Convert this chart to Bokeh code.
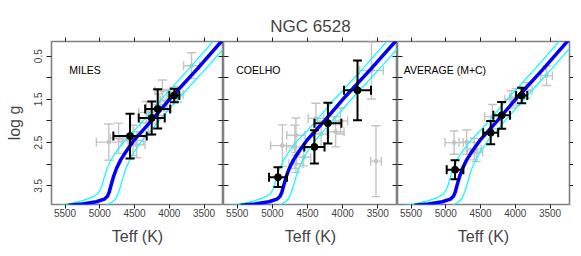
from bokeh.plotting import figure
from bokeh.models import (Range1d, FixedTicker, LinearAxis, Whisker, TeeHead,
                          ColumnDataSource)
from bokeh.layouts import row
from bokeh.embed import file_html
from bokeh.resources import INLINE
from bokeh.core.properties import value

FONT = "Liberation Sans"

# ---------------- data ----------------
title_text = "NGC 6528"
panel_names = ["MILES", "COELHO", "AVERAGE (M+C)"]
x_ticks = [3500, 4000, 4500, 5000, 5500]
y_ticks = [0.5, 1.0, 1.5, 2.0, 2.5, 3.0, 3.5]

# isochrone (blue) and its two neighbours (cyan)
iso_teff = [3230, 3600, 3970, 4250, 4400, 4510, 4620, 4700, 4760, 4805, 4840,
            4865, 4890, 4935, 5050, 5250, 5450]
iso_logg = [0.12, 0.80, 1.45, 1.98, 2.25, 2.45, 2.70, 2.90, 3.10, 3.30, 3.50,
            3.65, 3.74, 3.81, 3.87, 3.92, 3.95]
hot_teff = [3350, 3720, 4090, 4370, 4520, 4640, 4760, 4840, 4895, 4935, 4965,
            4995, 5040, 5130, 5260, 5420, 5600]
hot_logg = [0.12, 0.80, 1.45, 1.98, 2.25, 2.45, 2.70, 2.90, 3.10, 3.30, 3.47,
            3.60, 3.70, 3.78, 3.85, 3.91, 3.95]
cool_teff = [3110, 3480, 3850, 4140, 4280, 4390, 4500, 4570, 4625, 4665, 4700,
             4730, 4770, 4815, 4870, 4950]
cool_logg = [0.12, 0.80, 1.45, 1.98, 2.25, 2.45, 2.70, 2.90, 3.10, 3.30, 3.50,
             3.65, 3.80, 3.87, 3.93, 3.98]

# MILES
miles_teff = [3928, 4167, 4253, 4565]
miles_logg = [1.41, 1.72, 1.93, 2.35]
miles_teff_err = [72, 180, 187, 240]
miles_logg_err = [0.155, 0.455, 0.38, 0.52]
miles_star_teff = [3680, 3880, 4030, 4100, 4150, 4300, 4330, 4520, 4470, 4730, 4870]
miles_star_logg = [0.72, 1.38, 1.52, 1.30, 1.62, 2.05, 1.80, 2.45, 2.55, 2.40, 2.49]
miles_star_teff_err = [115, 80, 100, 110, 100, 120, 110, 150, 120, 120, 180]
miles_star_logg_err = [0.30, 0.18, 0.25, 0.25, 0.25, 0.28, 0.25, 0.35, 0.30, 0.35, 0.42]

# COELHO
coelho_teff = [3789, 4210, 4402, 4920]
coelho_logg = [1.29, 2.05, 2.60, 3.30]
coelho_teff_err = [192, 192, 144, 127]
coelho_logg_err = [0.69, 0.47, 0.385, 0.23]
coelho_star_teff = [3590, 3526, 4030, 4100, 4306, 4380, 4555, 4665, 4665, 4680, 4857]
coelho_star_logg = [0.83, 2.93, 2.00, 2.25, 2.30, 1.94, 2.84, 2.33, 2.99, 2.60, 2.57]
coelho_star_teff_err = [168, 77, 100, 120, 110, 110, 100, 130, 100, 120, 168]
coelho_star_logg_err = [0.66, 0.82, 0.30, 0.35, 0.30, 0.35, 0.20, 0.40, 0.20, 0.50, 0.48]

# AVERAGE (M+C)
avg_teff = [3908, 4196, 4354, 4867]
avg_logg = [1.41, 1.87, 2.27, 3.13]
avg_teff_err = [81, 120, 108, 120]
avg_logg_err = [0.18, 0.31, 0.27, 0.22]
avg_star_teff = [3550, 3840, 3990, 4060, 4330, 4560, 4590, 4700, 4880]
avg_star_logg = [0.95, 1.29, 1.45, 1.50, 1.90, 2.72, 2.65, 2.49, 2.50]
avg_star_teff_err = [84, 80, 90, 90, 110, 90, 100, 110, 130]
avg_star_logg_err = [0.23, 0.18, 0.20, 0.20, 0.28, 0.22, 0.25, 0.28, 0.27]

panels = [
    (miles_teff, miles_logg, miles_teff_err, miles_logg_err,
     miles_star_teff, miles_star_logg, miles_star_teff_err, miles_star_logg_err),
    (coelho_teff, coelho_logg, coelho_teff_err, coelho_logg_err,
     coelho_star_teff, coelho_star_logg, coelho_star_teff_err, coelho_star_logg_err),
    (avg_teff, avg_logg, avg_teff_err, avg_logg_err,
     avg_star_teff, avg_star_logg, avg_star_teff_err, avg_star_logg_err),
]

# ---------------- styling ----------------
FRAME_W = [172, 174, 172]
FRAME_H = 163
LABEL_X = [5440, 5515, 5605]
LABEL_Y = 0.81
GREY = "#c4c4c4"
BORDER = "#808080"


def err_source(t, g, te, ge):
    return ColumnDataSource(dict(
        t=t, g=g,
        tl=[a - b for a, b in zip(t, te)], tu=[a + b for a, b in zip(t, te)],
        gl=[a - b for a, b in zip(g, ge)], gu=[a + b for a, b in zip(g, ge)],
    ))


def add_errors(p, src, color, lw, cap, level):
    for dim, base, lo, up in (("height", "t", "gl", "gu"), ("width", "g", "tl", "tu")):
        w = Whisker(source=src, base=base, lower=lo, upper=up, dimension=dim,
                    line_color=color, line_width=lw, level=level,
                    lower_head=TeeHead(size=cap, line_color=color, line_width=lw),
                    upper_head=TeeHead(size=cap, line_color=color, line_width=lw))
        p.add_layout(w)


def hide_labels(ax):
    ax.major_label_text_font_size = "0px"
    ax.major_label_text_color = None
    ax.major_label_standoff = 0


def yaxis(labels, tick_in, tick_out):
    ax = LinearAxis(ticker=FixedTicker(ticks=y_ticks), axis_line_color=None,
                    major_tick_in=tick_in, major_tick_out=tick_out,
                    minor_tick_in=0, minor_tick_out=0,
                    major_tick_line_color="#222222")
    if labels:
        ax.major_label_overrides = {1: "", 2: "", 3: ""}
        ax.major_label_orientation = "vertical"
        ax.major_label_text_font = FONT
        ax.major_label_text_font_size = "10px"
        ax.major_label_standoff = 4
        ax.axis_label = "log g"
        ax.axis_label_text_font = FONT
        ax.axis_label_text_font_size = "16px"
        ax.axis_label_text_font_style = "normal"
        ax.axis_label_standoff = 9
    else:
        hide_labels(ax)
    return ax


def xaxis(labels):
    ax = LinearAxis(ticker=FixedTicker(ticks=x_ticks), axis_line_color=None,
                    major_tick_in=0, major_tick_out=4,
                    minor_tick_in=0, minor_tick_out=0,
                    major_tick_line_color="#222222")
    if labels:
        ax.major_label_text_font = FONT
        ax.major_label_text_font_size = "10px"
        ax.major_label_standoff = 0
        ax.axis_label = "Teff (K)"
        ax.axis_label_text_font = FONT
        ax.axis_label_text_font_size = "16px"
        ax.axis_label_text_font_style = "normal"
        ax.axis_label_standoff = 8
    else:
        hide_labels(ax)
    return ax


figs = []
for i, (bt, bg, bte, bge, st, sg, ste, sge) in enumerate(panels):
    p = figure(frame_width=FRAME_W[i], frame_height=FRAME_H,
               x_range=Range1d(5695, 3220), y_range=Range1d(3.933, 0.16),
               x_axis_location=None, y_axis_location=None,
               output_backend="svg", toolbar_location=None,
               title=(title_text if i == 1 else None),
               min_border_left=(51 if i == 0 else 0),
               min_border_right=(4 if i == 2 else 0),
               min_border_top=41, min_border_bottom=43,
               outline_line_color=BORDER, outline_line_width=1.6,
               background_fill_color="white", border_fill_color="white")
    p.xgrid.grid_line_color = None
    p.ygrid.grid_line_color = None
    if i == 1:
        p.title.align = "center"
        p.title.text_font = FONT
        p.title.text_font_size = "17px"
        p.title.text_font_style = "normal"
        p.title.standoff = 4

    # axes
    p.add_layout(xaxis(True), "below")
    p.add_layout(xaxis(False), "above")
    if i == 0:
        p.add_layout(yaxis(True, 0, 5), "left")
    else:
        p.add_layout(yaxis(False, 5, 0), "left")
    if i == 2:
        p.add_layout(yaxis(False, 0, 4), "right")
    else:
        p.add_layout(yaxis(False, 5, 0), "right")

    # individual stars (grey)
    ssrc = err_source(st, sg, ste, sge)
    add_errors(p, ssrc, GREY, 1.4, 9, "underlay")
    p.scatter("t", "g", source=ssrc, size=4, color=GREY)

    # isochrones
    p.line(hot_teff, hot_logg, line_color="#00ffff", line_width=1.2)
    p.line(cool_teff, cool_logg, line_color="#00ffff", line_width=1.2)
    p.line(iso_teff, iso_logg, line_color="#0000ff", line_width=3.5)

    # cluster values (black)
    bsrc = err_source(bt, bg, bte, bge)
    add_errors(p, bsrc, "black", 2, 9, "overlay")
    p.scatter("t", "g", source=bsrc, size=7, color="black")

    p.text(x=[LABEL_X[i]], y=[LABEL_Y], text=[panel_names[i]],
           text_font=value(FONT), text_font_size="10.5px",
           text_baseline="middle", text_align="left", text_color="black")
    figs.append(p)

layout = row(*figs, spacing=0)
open("out.html", "w").write(file_html(layout, INLINE))
